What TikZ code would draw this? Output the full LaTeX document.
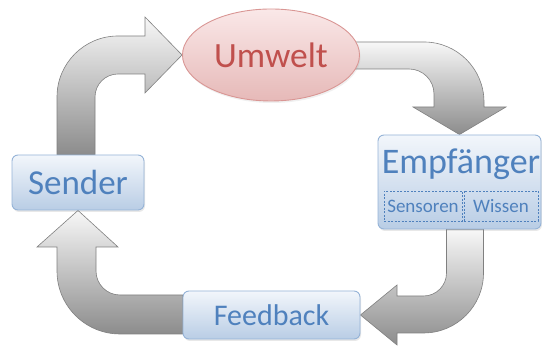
\documentclass[tikz,border=0pt]{standalone}
\usepackage{fontspec}
\setmainfont{Carlito}
\usetikzlibrary{calc,backgrounds,shadows,shapes.geometric}

\definecolor{boxblue}{HTML}{4F81BD}
\definecolor{boxline}{HTML}{95B3D7}
\definecolor{boxtop}{HTML}{F2F6FB}
\definecolor{boxbottom}{HTML}{B9CDE5}
\definecolor{envred}{HTML}{C0504D}
\definecolor{envline}{HTML}{D99694}
\definecolor{envtop}{HTML}{FAE8E8}
\definecolor{envbottom}{HTML}{E6B9B8}
\definecolor{arrowline}{HTML}{808080}

\tikzset{
  block/.style={draw=boxline, line width=0.9pt, rounded corners=6pt,
    top color=boxtop, bottom color=boxbottom, text=boxblue, inner sep=0pt,
    drop shadow={opacity=0.18, shadow xshift=1pt, shadow yshift=-2pt}},
  env/.style={ellipse, draw=envline, line width=0.9pt,
    top color=envtop, bottom color=envbottom, text=envred, inner sep=0pt,
    drop shadow={opacity=0.12, shadow xshift=1pt, shadow yshift=-2pt}},
  part/.style={draw=boxblue, dash pattern=on 2pt off 1.5pt, line width=0.5pt,
    text=boxblue, inner sep=0pt, font=\fontsize{19}{19}\selectfont},
  flow/.style={draw=arrowline, line width=0.6pt, top color=white!97!black,
    bottom color=black!45}
}

\begin{document}
\begin{tikzpicture}[x=1pt, y=1pt]
    \useasboundingbox (0,0) rectangle (542,347);

    % Nodes
    \node[env, minimum width=177, minimum height=92,
          font=\fontsize{35.5}{35.5}\selectfont] (umw) at (271,292) {Umwelt};
    \node[block, minimum width=132, minimum height=55,
          font=\fontsize{35}{35}\selectfont] (snd) at (78,164.5) {Sender};
    \node[block, minimum width=163, minimum height=94] (emp) at (459.5,165) {};
    \node[anchor=base, text=boxblue, inner sep=0pt,
          font=\fontsize{36}{36}\selectfont] (emptext) at (461,173) {Empfänger};
    \node[part, minimum width=78, minimum height=30] (sen) at (423,141) {Sensoren};
    \node[part, minimum width=74, minimum height=30] (wis) at (501,141) {Wissen};
    \node[block, minimum width=177, minimum height=48,
          font=\fontsize{30}{30}\selectfont] (fb) at (271.5,32) {Feedback};

    % Bent arrows
    \begin{pgfonlayer}{background}
    \draw[flow] ($(snd.north)+(-21,0)$) -- (57,250)
        arc[start angle=180, end angle=90, radius=61] -- (145,311)
        -- (145,330) -- (umw.west) -- (145,254) -- (145,273) -- (118,273)
        arc[start angle=90, end angle=180, radius=23]
        -- ($(snd.north)+(17,0)$) -- cycle;
    \draw[flow] ($(umw.east)+(-10,13)$) -- (424,305)
        arc[start angle=90, end angle=0, radius=60] -- (484,240)
        -- (506,240) -- (emp.north) -- (413,240) -- (434,240) -- (434,253)
        arc[start angle=0, end angle=90, radius=25]
        -- ($(umw.east)+(-10,-14)$) -- cycle;
    \draw[flow] ($(emp.south)+(24,0)$) -- (483.5,74)
        arc[start angle=0, end angle=-90, radius=60] -- (397,14)
        -- (397,2) -- (fb.east) -- (397,62) -- (397,51) -- (423.5,51)
        arc[start angle=-90, end angle=0, radius=23]
        -- ($(emp.south)+(-13,0)$) -- cycle;
    \draw[flow] ($(fb.west)+(0,-19)$) -- (120,13)
        arc[start angle=-90, end angle=-180, radius=63] -- (57,100)
        -- (37,100) -- (snd.south) -- (118,100) -- (96,100) -- (96,76)
        arc[start angle=180, end angle=270, radius=24]
        -- ($(fb.west)+(0,20)$) -- cycle;
    \end{pgfonlayer}
\end{tikzpicture}
\end{document}
